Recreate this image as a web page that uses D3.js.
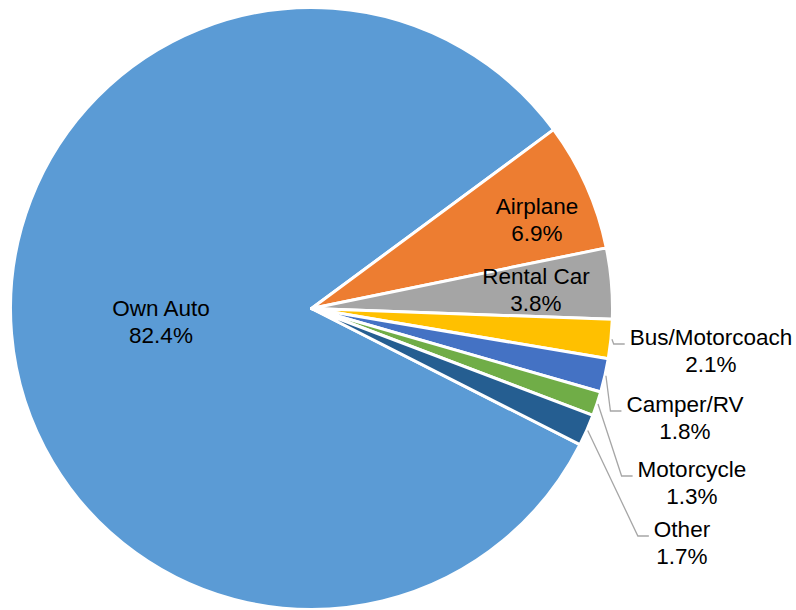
<!DOCTYPE html>
<html>
<head>
<meta charset="utf-8">
<script src="https://cdn.jsdelivr.net/npm/d3@7"></script>
<style>
  body { margin: 0; background: #fff; }
  svg { display: block; }
</style>
</head>
<body>
<svg id="chart" width="796" height="610"></svg>
<script>
const categories = ["Own Auto", "Airplane", "Rental Car", "Bus/Motorcoach", "Camper/RV", "Motorcycle", "Other"]
const shares = [82.4, 6.9, 3.8, 2.1, 1.8, 1.3, 1.7]
const colors = ["#5B9BD5", "#ED7D31", "#A5A5A5", "#FFC000", "#4472C4", "#70AD47", "#255E91"]

// label placement (layout only): inside labels use x/y, outside ones get a leader line
const labelPos = [
  { x: 161, y: 316, inside: true },
  { x: 537, y: 214, inside: true },
  { x: 536, y: 284, inside: true },
  { x: 711, y: 345 },
  { x: 685, y: 412 },
  { x: 692, y: 477 },
  { x: 682, y: 537 }
]

const w = 796, h = 610
const cx = 311.5, cy = 308.5, r = 301
const font = "Arial, 'Liberation Sans', sans-serif"
const fontSize = "22.5px"

const svg = d3.select("#chart")
const g = svg.append("g").attr("transform", "translate(" + cx + "," + cy + ")")

const start = 116.9 * Math.PI / 180
const pie = d3.pie().sort(null).value(d => d).startAngle(start).endAngle(start + 2 * Math.PI)
const arcs = pie(shares)
const arc = d3.arc().innerRadius(0).outerRadius(r)

g.selectAll("path.slice")
  .data(arcs)
  .enter()
  .append("path")
    .attr("class", "slice")
    .attr("d", arc)
    .attr("fill", (d, i) => colors[i])
    .attr("stroke", "#fff")
    .attr("stroke-width", 3)
    .attr("stroke-linejoin", "round")

function textWidth(s) {
  const t = svg.append("text").style("font-family", font).style("font-size", fontSize).text(s)
  const wd = t.node().getComputedTextLength()
  t.remove()
  return wd
}

// leader lines for the small slices
arcs.forEach((d, i) => {
  const p = labelPos[i]
  if (p.inside) return
  const a = (d.startAngle + d.endAngle) / 2
  const sx = cx + (r + 1) * Math.sin(a)
  const sy = cy - (r + 1) * Math.cos(a)
  const ex = p.x - textWidth(categories[i]) / 2 - 5
  const ey = p.y - 1
  const kx = Math.max(sx, ex - 11)
  svg.append("polyline")
     .attr("points", [[sx, sy], [kx, ey], [ex, ey]].map(q => q.join(",")).join(" "))
     .attr("fill", "none")
     .attr("stroke", "#A6A6A6")
     .attr("stroke-width", 1.3)
})

const labels = svg.selectAll("text.lbl")
  .data(arcs)
  .enter()
  .append("text")
    .attr("class", "lbl")
    .attr("text-anchor", "middle")
    .style("font-family", font)
    .style("font-size", fontSize)
    .attr("fill", "#000")

labels.append("tspan")
  .attr("x", (d, i) => labelPos[i].x)
  .attr("y", (d, i) => labelPos[i].y)
  .text((d, i) => categories[i])

labels.append("tspan")
  .attr("x", (d, i) => labelPos[i].x)
  .attr("y", (d, i) => labelPos[i].y + 26.5)
  .text((d, i) => d3.format(".1f")(shares[i]) + "%")
</script>
</body>
</html>
